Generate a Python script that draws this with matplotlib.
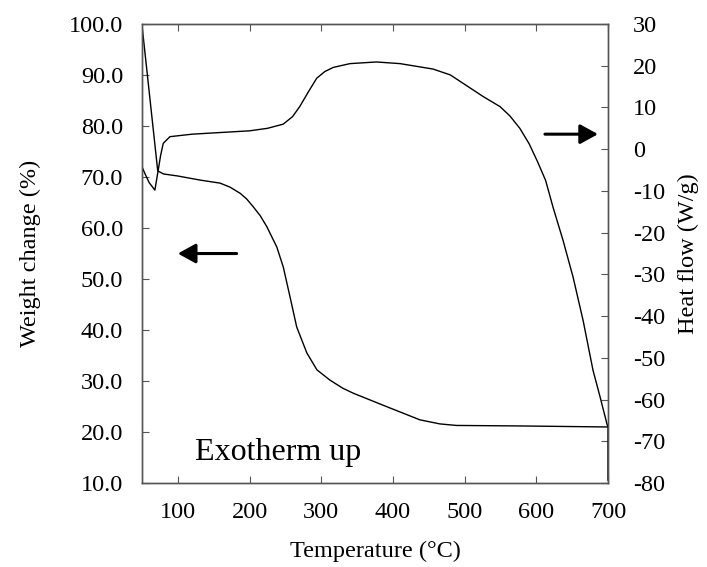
import numpy as np
import matplotlib
matplotlib.use("Agg")
import matplotlib.pyplot as plt

plt.rcParams['font.family'] = ['Liberation Serif', 'DejaVu Serif']

### data
temp_weight = [50, 72, 80, 100, 131, 159, 173, 187, 196, 205, 215, 224, 238, 247, 256.5,
               265.8, 280, 294, 312, 330, 345, 391, 437.6, 465.5, 488.7, 577, 700]
weight = [99.8, 71.2, 70.6, 70.2, 69.4, 68.8, 68.0, 66.8, 65.7, 64.2, 62.4, 60.3, 56.3, 52.4, 46.5,
          40.6, 35.5, 32.2, 30.2, 28.6, 27.6, 25.0, 22.4, 21.6, 21.3, 21.2, 21.0]

temp_heat = [50, 54, 60, 68, 72.7, 76, 79.7, 89, 120, 160, 200, 225, 247, 260, 270, 283,
             293.7, 305, 316.9, 340, 377, 410, 456, 480, 503, 526, 549.4, 563, 577, 590,
             602, 613, 623.3, 637.2, 651.2, 665.2, 679.1, 689, 698.6, 700, 700]
heat_flow = [-4.2, -5.8, -8.0, -9.8, -5.0, -1.5, 1.4, 3.0, 3.6, 4.0, 4.4, 5.0, 6.0, 7.8, 10.2, 14.0,
             17.0, 18.6, 19.6, 20.5, 20.9, 20.5, 19.2, 17.8, 15.2, 12.6, 10.2, 8.0, 5.0, 1.3,
             -3.1, -7.5, -13.9, -21.8, -30.6, -41.0, -53.0, -59.4, -65.9, -66.6, -79.3]

x_ticks = [100, 200, 300, 400, 500, 600, 700]
w_ticks = np.arange(10, 101, 10)
h_ticks = np.arange(-80, 31, 10)

spine_col = '#555555'
fs = 17.5

### --------------------------------------------
def style_axis(ax):
    for s in ax.spines.values():
        s.set_color(spine_col)
        s.set_linewidth(1.0)
    ax.tick_params(direction='in', length=5, width=0.8, color=spine_col,
                   labelsize=fs, pad=13.5)


fig = plt.figure(figsize=(7.07, 5.67), dpi=100)
fig.subplots_adjust(left=0.2008, right=0.860, top=0.9577, bottom=0.148)
ax = plt.gca()

ax.plot(temp_weight, weight, color='k', lw=1.0)
ax.set_xlim(50, 700)
ax.set_ylim(10, 100)
ax.set_xticks(x_ticks)
ax.set_yticks(w_ticks)
ax.set_yticklabels(['%.1f' % v for v in w_ticks])
ax.tick_params(axis='x', top=True)
style_axis(ax)
ax.set_xlabel('Temperature (°C)', fontsize=fs, labelpad=13)
ax.set_ylabel('Weight change (%)', fontsize=fs, labelpad=20)

ax2 = ax.twinx()
ax2.plot(temp_heat, heat_flow, color='k', lw=1.0)
ax2.set_ylim(-80, 30)
ax2.set_yticks(h_ticks)
ax2.set_yticklabels(['%d' % v for v in h_ticks])
style_axis(ax2)
ax2.tick_params(axis='y', pad=18)
ax2.set_ylabel('Heat flow (W/g)', fontsize=fs, labelpad=9)

# arrows pointing at the axis each curve belongs to
arr = dict(arrowstyle='-|>,head_length=0.4,head_width=0.22', lw=2.2, color='k',
           mutation_scale=27, shrinkA=0, shrinkB=0)
ax.annotate('', xy=(100, 55), xytext=(182, 55), arrowprops=arr)
ax.annotate('', xy=(686, 78.4), xytext=(612, 78.4), arrowprops=arr)

ax.text(0.113, 0.035, 'Exotherm up', transform=ax.transAxes, fontsize=23,
        ha='left', va='bottom')

plt.savefig('out.png', dpi=100)
plt.close()
